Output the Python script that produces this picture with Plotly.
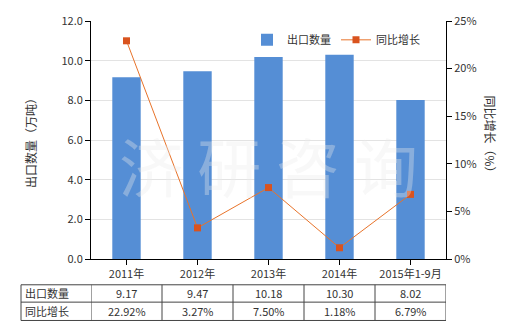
import plotly.graph_objects as go

categories = ["2011年", "2012年", "2013年", "2014年", "2015年1-9月"]
export_qty = [9.17, 9.47, 10.18, 10.30, 8.02]
yoy_growth = [22.92, 3.27, 7.50, 1.18, 6.79]
qty_labels = ["9.17", "9.47", "10.18", "10.30", "8.02"]
growth_labels = ["22.92%", "3.27%", "7.50%", "1.18%", "6.79%"]
row_names = ["出口数量", "同比增长"]

FONT = "Noto Sans CJK SC"
TXT = "#333333"

fig = go.Figure()
fig.add_trace(go.Bar(x=list(range(len(categories))), y=export_qty, name="出口数量",
                     marker=dict(color="#558ED5", line=dict(width=0)), width=0.4))
fig.add_trace(go.Scatter(x=list(range(len(categories))), y=yoy_growth, name="同比增长", yaxis="y2",
                         mode="lines+markers",
                         line=dict(color="#E8732A", width=1),
                         marker=dict(symbol="square", size=7, color="#D9531E")))

pw, ph = 520 - 91 - 74, 259 - 19
def py(p):
    return (259 - p) / ph
def px(p):
    return (p - 91) / pw

row_y = [py(285), py(302.5), py(321)]
shapes = []
for yv in row_y:
    shapes.append(dict(type="line", xref="paper", yref="paper", x0=px(21), x1=1, y0=yv, y1=yv,
                       line=dict(color="#444444", width=1)))
shapes.append(dict(type="line", xref="paper", yref="paper", x0=px(21), x1=px(21), y0=row_y[0], y1=row_y[2],
                   line=dict(color="#444444", width=1)))
for i in range(len(categories) + 1):
    shapes.append(dict(type="line", xref="x", yref="paper", x0=i - 0.5, x1=i - 0.5, y0=row_y[0], y1=row_y[2],
                       line=dict(color="#444444", width=1)))

annotations = []
for r, name in enumerate(row_names):
    annotations.append(dict(xref="paper", yref="paper", x=px(23), y=(row_y[r] + row_y[r + 1]) / 2,
                            text=name, showarrow=False, xanchor="left", yanchor="middle",
                            font=dict(family=FONT, size=11, color=TXT)))
for i in range(len(categories)):
    for r, labels in enumerate([qty_labels, growth_labels]):
        annotations.append(dict(xref="x", yref="paper", x=i, y=(row_y[r] + row_y[r + 1]) / 2,
                                text=labels[i], showarrow=False, xanchor="center", yanchor="middle",
                                font=dict(family=FONT, size=11, color=TXT)))

# watermark
annotations.append(dict(xref="paper", yref="paper", x=0.5, y=0.4, text="济 研 咨 询", showarrow=False,
                        font=dict(family=FONT, size=64, color="rgba(235,235,235,0.35)")))

# right axis title (vertical reading top-to-bottom)
annotations.append(dict(xref="paper", yref="paper", x=px(501), y=py(136), text="同比增长（%）", showarrow=False,
                        textangle=90, font=dict(family=FONT, size=12, color=TXT)))

fig.update_layout(
    width=520, height=330,
    margin=dict(l=91, r=74, t=19, b=71),
    paper_bgcolor="white", plot_bgcolor="white",
    font=dict(family=FONT, size=11, color=TXT),
    bargap=0.6,
    showlegend=True,
    legend=dict(orientation="h", x=px(247), y=py(38), xanchor="left", yanchor="middle",
                font=dict(family=FONT, size=11, color=TXT), bgcolor="rgba(0,0,0,0)",
                itemwidth=30, tracegroupgap=0),
    xaxis=dict(tickmode="array", tickvals=list(range(len(categories))), ticktext=categories,
               range=[-0.5, len(categories) - 0.5], showline=True, linecolor="black", linewidth=1,
               ticks="outside", ticklen=5, tickcolor="black", showgrid=False,
               tickfont=dict(family=FONT, size=11, color=TXT)),
    yaxis=dict(range=[0, 12], dtick=2, tickformat=".1f", showline=True, linecolor="black", linewidth=1,
               ticks="outside", ticklen=5, tickcolor="black", showgrid=True, gridcolor="#E3E3E3",
               zeroline=False,
               title=dict(text="出口数量（万吨）", font=dict(family=FONT, size=12, color=TXT), standoff=22),
               tickfont=dict(family=FONT, size=11, color=TXT)),
    yaxis2=dict(range=[0, 25], dtick=5, ticksuffix="%", overlaying="y", side="right",
                showline=True, linecolor="black", linewidth=1, ticks="outside", ticklen=5, tickcolor="black",
                showgrid=False, zeroline=False, tickfont=dict(family=FONT, size=11, color=TXT)),
    shapes=shapes, annotations=annotations,
)

fig.write_html("out.html")
